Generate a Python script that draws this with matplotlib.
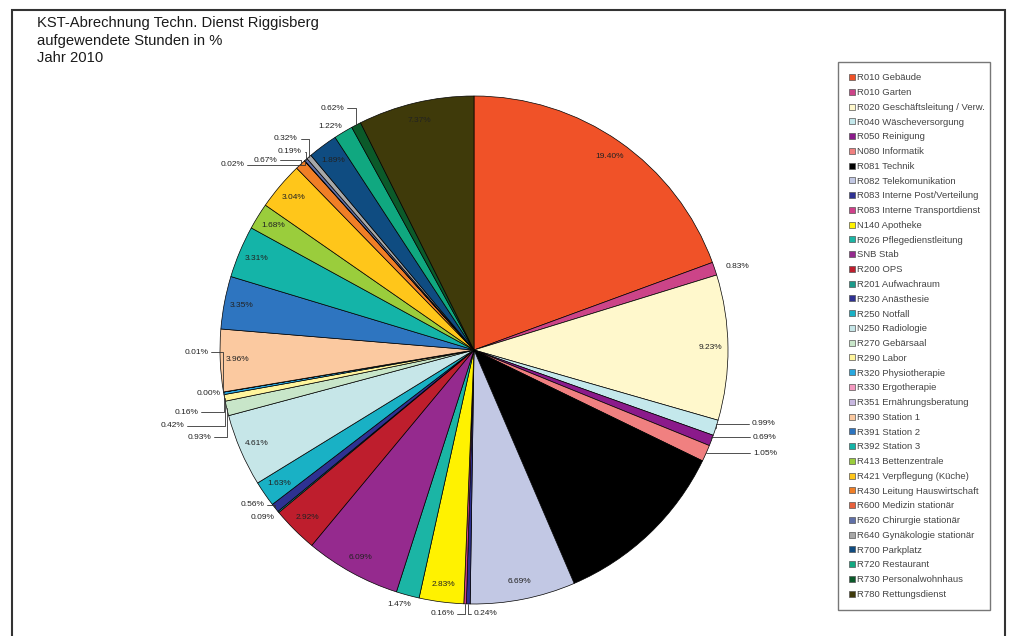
import numpy as np
import matplotlib
matplotlib.use("Agg")
import matplotlib.pyplot as plt
from matplotlib.lines import Line2D
from matplotlib.patches import Rectangle

plt.rcParams['font.family'] = ['Liberation Sans', 'DejaVu Sans']

# ---------------- data ----------------
categories = [
    "R010 Gebäude", "R010 Garten", "R020 Geschäftsleitung / Verw.", "R040 Wäscheversorgung",
    "R050 Reinigung", "N080 Informatik", "R081 Technik", "R082 Telekomunikation",
    "R083 Interne Post/Verteilung", "R083 Interne Transportdienst", "N140 Apotheke",
    "R026 Pflegedienstleitung", "SNB Stab", "R200 OPS", "R201 Aufwachraum", "R230 Anästhesie",
    "R250 Notfall", "N250 Radiologie", "R270 Gebärsaal", "R290 Labor", "R320 Physiotherapie",
    "R330 Ergotherapie", "R351 Ernährungsberatung", "R390 Station 1", "R391 Station 2",
    "R392 Station 3", "R413 Bettenzentrale", "R421 Verpflegung (Küche)",
    "R430 Leitung Hauswirtschaft", "R600 Medizin stationär", "R620 Chirurgie stationär",
    "R640 Gynäkologie stationär", "R700 Parkplatz", "R720 Restaurant",
    "R730 Personalwohnhaus", "R780 Rettungsdienst",
]
values = [
    19.40, 0.83, 9.23, 0.99, 0.69, 1.05, 11.36, 6.69, 0.24, 0.16, 2.83, 1.47, 6.09, 2.92,
    0.09, 0.56, 1.63, 4.61, 0.93, 0.42, 0.16, 0.00, 0.01, 3.96, 3.35, 3.31, 1.68, 3.04,
    0.67, 0.02, 0.19, 0.32, 1.89, 1.22, 0.62, 7.37,
]
colors = [
    "#F05228", "#CC4488", "#FFF8CC", "#C4E8EC", "#8B1A8B", "#F08080", "#000000", "#C2C8E4",
    "#2E3192", "#D0408A", "#FFF200", "#1BB5A5", "#952A8E", "#BE1E2D", "#1A9A8A", "#2E3192",
    "#19B1C5", "#C6E6E8", "#C8E6C9", "#FFF59D", "#29A8DF", "#F49AC1", "#C8B8E0", "#FBC9A0",
    "#2E75C0", "#14B4A8", "#9ACD3C", "#FFC61A", "#F07E26", "#E8603C", "#6070A8", "#A8A8A8",
    "#0F4C81", "#10A880", "#0B5A2A", "#3F3A0A",
]

# label placement style: not listed = inside; (dx, dy, leader) = outside offset in pixels from slice edge
label_style = {
    1: (23, 2, False), 3: (48, 4, True), 4: (53, 3, True), 5: (59, 0, True),
    8: (17, -10, True), 9: (-23, -10, True), 11: (-8, -9, False),
    14: (-16, -6, False), 15: (-23, 3, True),
    18: (-27, -29, True), 19: (-52, -28, True), 20: (-37, -19, True),
    21: (-15, -1, False), 22: (-27, 40, True),
    28: (-35, 4, True), 29: (-72, -4, True), 30: (-16, 8, True), 31: (-23, 18, True),
    33: (-13, 6, False), 34: (-24, 17, True),
}

# ---------------- figure ----------------
W, H, DPI = 1012, 636, 100
fig = plt.figure(figsize=(W / DPI, H / DPI), dpi=DPI)
fig.patch.set_facecolor("white")

cx, cy, R = 474, 350, 254  # pie centre and radius in pixels
ax = fig.add_axes([0, 0, 1, 1])
wedges, _ = ax.pie(values, colors=colors, startangle=90, counterclock=False, radius=1,
                   wedgeprops=dict(edgecolor="black", linewidth=0.5))
ax.set_xlim((0 - cx) / R, (W - cx) / R)
ax.set_ylim((cy - H) / R, cy / R)
ax.set_aspect("auto")
ax.axis("off")

LFS = 6
total = float(sum(values))
cum = 0.0
for i, v in enumerate(values):
    mid = cum + v / 2.0
    cum += v
    theta = np.deg2rad(90 - 360.0 * mid / total)
    txt = f"{v:.2f}%"
    tcol = "#000000" if colors[i] == "#000000" else "#222222"
    if i not in label_style:
        ax.text(0.93 * np.cos(theta), 0.93 * np.sin(theta), txt, ha="center", va="center",
                fontsize=LFS, color=tcol)
    else:
        dx, dy, leader = label_style[i]
        xy = (np.cos(theta), np.sin(theta))
        if leader:
            relpos = (0, 0.5) if dx > 0 else (1, 0.5)
            ax.annotate(txt, xy=xy, xytext=(dx, dy), textcoords="offset pixels",
                        ha="center", va="center", fontsize=LFS, color=tcol,
                        arrowprops=dict(arrowstyle="-", color="#333333", lw=0.6,
                                        shrinkA=0, shrinkB=0, relpos=relpos,
                                        connectionstyle="angle,angleA=0,angleB=90,rad=0"))
        else:
            ax.annotate(txt, xy=xy, xytext=(dx, dy), textcoords="offset pixels",
                        ha="center", va="center", fontsize=LFS, color=tcol)

# ---------------- legend ----------------
handles = [Line2D([], [], marker="s", ls="", markersize=4, markerfacecolor=c,
                  markeredgecolor="#555555", markeredgewidth=0.5) for c in colors]
leg = fig.legend(handles, categories, loc="upper left",
                 bbox_to_anchor=(838 / W, 1 - 62 / H, (990 - 838) / W, 0), mode="expand",
                 fontsize=6.8, frameon=True, fancybox=False, handlelength=0.6, handletextpad=0.25,
                 labelspacing=0.61, borderpad=1.2, borderaxespad=0)
leg.get_frame().set_edgecolor("#555555")
leg.get_frame().set_linewidth(1.0)
for t in leg.get_texts():
    t.set_color("#444444")

# ---------------- title & frame ----------------
fig.text(37 / W, 1 - 16 / H,
         "KST-Abrechnung Techn. Dienst Riggisberg\naufgewendete Stunden in %\nJahr 2010",
         ha="left", va="top", fontsize=10.6, color="#1a1a1a", linespacing=1.32)
fig.patches.append(Rectangle((12 / W, -0.1), (1005 - 12) / W, 1.1 - 10 / H,
                             transform=fig.transFigure, fill=False, edgecolor="#333333",
                             linewidth=1.5))

fig.savefig("out.png", dpi=DPI)
